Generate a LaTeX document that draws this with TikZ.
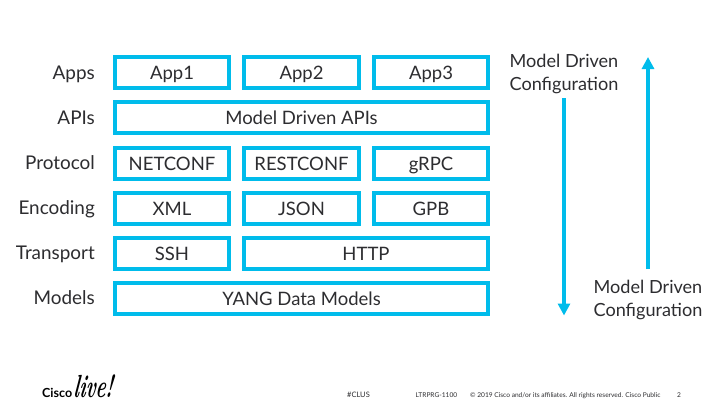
\documentclass[tikz,border=0pt]{standalone}
\usepackage{fontspec}
\setmainfont{Lato}
\newfontfamily\livefont{Latin Modern Roman}
\usetikzlibrary{arrows.meta}
\definecolor{ciscoblue}{RGB}{0,188,235}
\definecolor{ink}{RGB}{45,45,48}
\tikzset{
  x=1pt,y=-1pt,
  layerbox/.style={draw=ciscoblue,line width=4pt,fill=white,text=ink,font=\fontsize{18.5}{20}\selectfont,inner sep=0pt,anchor=center,text height=15.5pt,text depth=2.5pt},
  rowlabel/.style={text=ink,font=\fontsize{18.9}{20}\selectfont,inner sep=0pt,anchor=base east},
  sidelabel/.style={text=ink,font=\fontsize{18.1}{22.5}\selectfont,inner sep=0pt,align=center,anchor=center},
  flow/.style={draw=ciscoblue,line width=3.5pt,-{Triangle[length=12pt,width=12pt]}},
  foot/.style={text=ink,inner sep=0pt,anchor=base west,font=\fontsize{6.6}{7}\selectfont},
}
\newcommand{\layer}[6]{\node[layerbox,minimum width=#4-#3-4pt,minimum height=#6-#5-4pt] (#1) at ({(#3+#4)/2},{(#5+#6)/2}) {#2};}
\begin{document}
\begin{tikzpicture}
\useasboundingbox (0,0) rectangle (720,405);
\fill[white] (0,0) rectangle (720,405);
% rows
\layer{a1}{App1}{113}{231}{55}{90}
\layer{a2}{App2}{242}{361}{55}{90}
\layer{a3}{App3}{372}{490}{55}{90}
\layer{api}{Model Driven APIs}{113}{490}{100}{135}
\layer{p1}{NETCONF}{113}{231}{146}{181}
\layer{p2}{RESTCONF}{242}{361}{146}{181}
\layer{p3}{gRPC}{372}{490}{146}{181}
\layer{e1}{XML}{113}{231}{191}{226}
\layer{e2}{JSON}{242}{361}{191}{226}
\layer{e3}{GPB}{372}{490}{191}{226}
\layer{t1}{SSH}{113}{231}{236}{271}
\layer{t2}{HTTP}{242}{490}{236}{271}
\layer{m}{YANG Data Models}{113}{490}{281}{316}
\node[rowlabel] (lApps) at (95,79) {Apps};
\node[rowlabel] (lApis) at (95,124) {APIs};
\node[rowlabel] (lProt) at (95,169) {Protocol};
\node[rowlabel] (lEnc) at (95,214) {Encoding};
\node[rowlabel] (lTr) at (95,259) {Transport};
\node[rowlabel] (lMod) at (95,304) {Models};
\node[sidelabel] (topnote) at (564,74) {Model Driven\\Configuration};
\node[sidelabel] (botnote) at (648,300) {Model Driven\\Configuration};
\coordinate (downstart) at (564,98);
\coordinate (downend) at (564,315.5);
\coordinate (upstart) at (648,269);
\coordinate (upend) at (648,57);
\draw[flow] (downstart) -- (downend);
\draw[flow] (upstart) -- (upend);
% footer
\node[inner sep=0pt,anchor=base west,text=black,font=\fontsize{12.5}{14}\bfseries\selectfont] (cisco) at (42,397.5) {Cisco};
\node[inner sep=0pt,anchor=base west,text=black,xscale=0.58,xslant=0.2,font=\livefont\fontsize{32}{34}\bfseries\itshape\selectfont] (live) at (73,397.5) {live!};
\node[foot,font=\fontsize{7.5}{9}\selectfont] (clus) at (347,397) {\#CLUS};
\node[foot] (code) at (415.5,397.5) {LTRPRG-1100};
\node[foot] (copy) at (470,397.5) {© 2019  Cisco and/or its affiliates. All rights reserved.   Cisco Public};
\node[foot] (pg) at (677,397.5) {2};
\end{tikzpicture}
\end{document}
